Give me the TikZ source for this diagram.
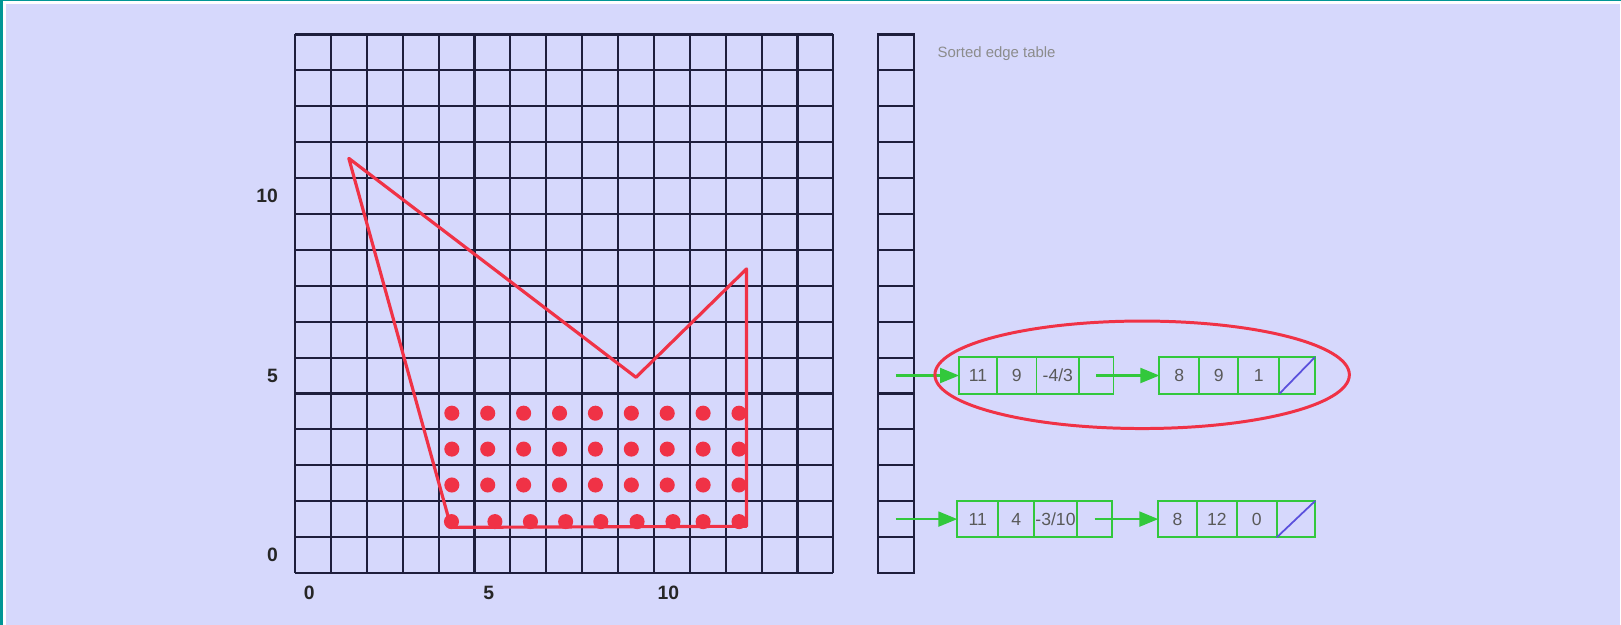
\documentclass[tikz,border=0pt]{standalone}
\usepackage{fontspec}
\setmainfont{Liberation Sans}
\usetikzlibrary{arrows.meta, shapes.geometric, positioning}
\definecolor{bgblue}{RGB}{214,216,252}
\definecolor{frameteal}{RGB}{0,150,150}
\definecolor{gridnavy}{RGB}{30,30,60}
\definecolor{polyred}{RGB}{240,50,70}
\definecolor{listgreen}{RGB}{50,200,60}
\definecolor{slashblue}{RGB}{90,80,220}
\tikzset{
  gridline/.style={draw=gridnavy, line width=1.2pt},
  tablecell/.style={
    rectangle, draw=gridnavy, line width=1.2pt,
    minimum width=0.718cm, minimum height=0.718cm,
    inner sep=0pt, outer sep=0pt
  },
  axislabel/.style={font=\fontsize{11}{13}\selectfont\bfseries, text=black!85},
  edgecell/.style={
    rectangle, draw=listgreen, line width=1pt,
    minimum width=#1, minimum height=0.73cm,
    inner sep=0pt, outer sep=0pt,
    font=\fontsize{10}{12}\selectfont, text=black!65
  },
  edgecell/.default=0.79cm,
  listarrow/.style={-{Triangle[length=0.38cm, width=0.3cm]}, draw=listgreen, line width=1.2pt},
  polyline/.style={draw=polyred, line width=1.8pt, line join=round},
  pixeldot/.style={fill=polyred, draw=none},
  slashline/.style={draw=slashblue, line width=1pt},
}

\begin{document}
\begin{tikzpicture}[x=0.718cm, y=0.718cm, node distance=0pt]
  \fill[white] (-8.217,-1.448) rectangle (36.94,15.961);
  \fill[bgblue] (-8.05,-1.448) rectangle (36.9,15.85);
  \fill[frameteal] (-8.217,-1.448) rectangle (-8.133,15.961);
  \fill[frameteal] (-8.217,15.925) rectangle (36.94,15.961);
  \useasboundingbox (-8.217,-1.448) rectangle (36.94,15.961);

  \draw[gridline, step=1] (0,0) grid (15,15);
  \foreach \r in {0,...,14}
    \node[tablecell] (et\r) at (16.74,\r+0.5) {};

  \foreach \v in {0,5,10}{
    \node[axislabel, anchor=east] (yl\v) at (-0.3,\v+0.5) {\v};
    \node[axislabel] (xl\v) at (\v+0.4,-0.55) {\v};
  }
  \node[font=\fontsize{8.5}{10}\selectfont, text=black!45, anchor=west] (title) at (17.73,14.48) {Sorted edge table};

  \draw[polyline] (1.5,11.55) -- (9.5,5.45) -- (12.58,8.47) -- (12.58,1.3)
    -- (4.35,1.27) -- cycle;
  \foreach \y in {2.45,3.45,4.45}
    \foreach \x in {0,...,8}
      \fill[pixeldot] (\x+4.37,\y) circle (0.21);
  \foreach \x in {4.36,5.57,6.56,7.54,8.52,9.53,10.53,11.37,12.37}
    \fill[pixeldot] (\x,1.43) circle (0.21);

  \node[edgecell=0.76cm, anchor=west] (a1) at (18.5,5.5) {11};
  \node[edgecell=0.79cm, right=of a1] (a2) {9};
  \node[edgecell=0.85cm, right=of a2] (a3) {-4/3};
  \node[edgecell=0.69cm, right=of a3] (a4) {};
  \node[edgecell=0.80cm, anchor=west] (b1) at (24.08,5.5) {8};
  \node[edgecell=0.78cm, right=of b1] (b2) {9};
  \node[edgecell=0.82cm, right=of b2] (b3) {1};
  \node[edgecell=0.71cm, right=of b3] (b4) {};
  \draw[slashline] (b4.south west) -- (b4.north east);

  \node[edgecell=0.82cm, anchor=west] (c1) at (18.45,1.5) {11};
  \node[edgecell=0.72cm, right=of c1] (c2) {4};
  \node[edgecell=0.85cm, right=of c2] (c3) {-3/10};
  \node[edgecell=0.71cm, right=of c3] (c4) {};
  \node[edgecell=0.77cm, anchor=west] (d1) at (24.05,1.5) {8};
  \node[edgecell=0.80cm, right=of d1] (d2) {12};
  \node[edgecell=0.80cm, right=of d2] (d3) {0};
  \node[edgecell=0.77cm, right=of d3] (d4) {};
  \draw[slashline] (d4.south west) -- (d4.north east);

  \draw[listarrow] (et5.center) -- (a1.west);
  \draw[listarrow] (a4.center) -- (b1.west);
  \draw[listarrow] (et1.center) -- (c1.west);
  \draw[listarrow] (c4.center) -- (d1.west);

  \node[ellipse, draw=polyred, line width=1.7pt,
        minimum width=8.29cm, minimum height=2.15cm] (hl) at (23.6,5.52) {};
\end{tikzpicture}
\end{document}
